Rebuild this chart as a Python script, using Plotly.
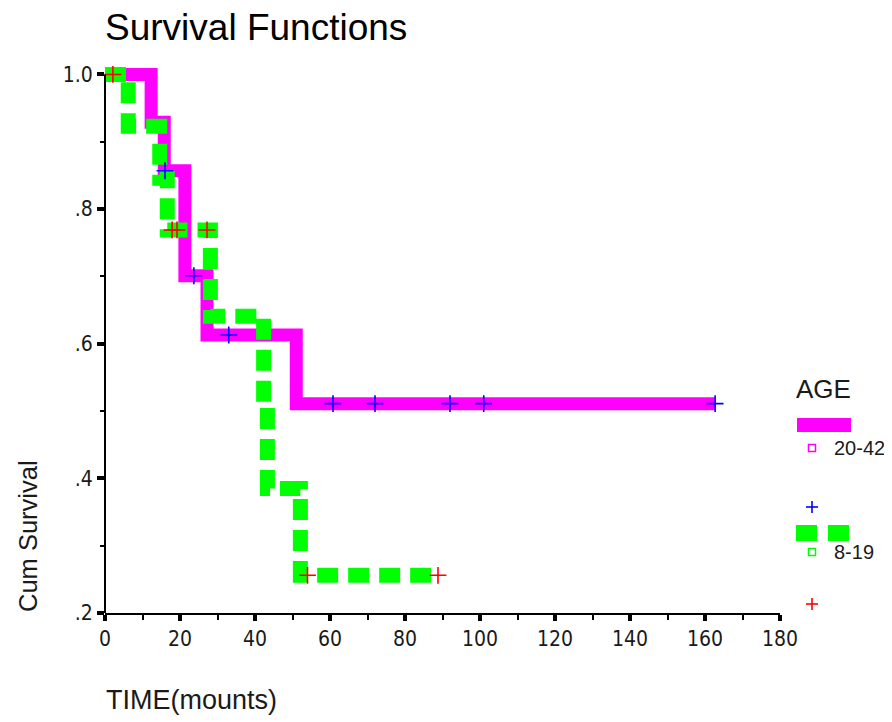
import plotly.graph_objects as go

# ---------------- data ----------------
# AGE 20-42 : Kaplan-Meier step function
t_2042 = [0, 12.3, 15.8, 21.3, 27.2, 51.0, 162.7]
s_2042 = [1.0, 0.929, 0.857, 0.701, 0.613, 0.511, 0.511]
# AGE 20-42 : censored observations
ct_2042 = [16.0, 23.7, 33.0, 60.8, 72.0, 92.0, 101.0, 162.7]
cs_2042 = [0.857, 0.701, 0.613, 0.511, 0.511, 0.511, 0.511, 0.511]

# AGE 8-19 : Kaplan-Meier step function
t_819 = [0, 6.2, 14.6, 16.6, 28.1, 42.3, 43.3, 52.1, 88.8]
s_819 = [1.0, 0.923, 0.846, 0.769, 0.641, 0.513, 0.385, 0.256, 0.256]
# AGE 8-19 : censored observations
ct_819 = [2.1, 17.9, 19.2, 27.2, 54.0, 88.8]
cs_819 = [1.0, 0.769, 0.769, 0.769, 0.256, 0.256]

x_ticks = [0, 20, 40, 60, 80, 100, 120, 140, 160, 180]
y_ticks = [0.2, 0.4, 0.6, 0.8, 1.0]
y_ticktext = [".2", ".4", ".6", ".8", "1.0"]
group_labels = ["20-42", "8-19"]

# ---------------- layout constants ----------------
OFF = 8                      # page body margin of the browser
W, H = 892 - OFF, 722 - OFF
L, T = 105 - OFF, 61 - OFF
R = W - (780 - OFF)
B = H - (613 - OFF)
PW, PH = W - L - R, H - T - B
X_RANGE = [0, 180]
Y_RANGE = [0.2, 1.02]

MAGENTA = "#FF00FF"
GREEN = "#00FF00"
BLUE = "#0000FF"
RED = "#FF0000"
FONT = "Liberation Sans, Arial, sans-serif"
NARROW = "Liberation Sans Narrow, Arial Narrow, DejaVu Sans Condensed, sans-serif"
TXT = "#1a1a1a"


def px(xp):
    """page pixel x -> paper coordinate"""
    return (xp - OFF - L) / PW


def py(yp):
    """page pixel y -> paper coordinate"""
    return (H - B - (yp - OFF)) / PH


fig = go.Figure()

fig.add_trace(go.Scatter(
    x=t_2042, y=s_2042, mode="lines", line_shape="hv",
    line=dict(color=MAGENTA, width=13), showlegend=False, hoverinfo="skip"))
fig.add_trace(go.Scatter(
    x=t_819, y=s_819, mode="lines", line_shape="hv",
    line=dict(color=GREEN, width=15, dash="21px,10px"),
    showlegend=False, hoverinfo="skip"))
fig.add_trace(go.Scatter(
    x=ct_2042, y=cs_2042, mode="markers",
    marker=dict(symbol="cross-thin", size=12, line=dict(color=BLUE, width=1.6)),
    showlegend=False, cliponaxis=False))
fig.add_trace(go.Scatter(
    x=ct_819, y=cs_819, mode="markers",
    marker=dict(symbol="cross-thin", size=12, line=dict(color=RED, width=1.6)),
    showlegend=False, cliponaxis=False))

# ---------------- axes ----------------
fig.update_xaxes(
    range=X_RANGE, tickmode="array", tickvals=x_ticks,
    ticks="outside", ticklen=6, tickwidth=4, tickcolor="black",
    showline=True, linecolor="black", linewidth=2,
    showgrid=False, zeroline=False,
    tickfont=dict(family=NARROW, size=21, color=TXT),
    minor=dict(ticks="outside", ticklen=5, tickwidth=2, tickcolor="black",
               tick0=0, dtick=10, showgrid=False))
fig.update_yaxes(
    range=Y_RANGE, tickmode="array", tickvals=y_ticks, ticktext=y_ticktext,
    ticks="outside", ticklen=7, tickwidth=4, tickcolor="black",
    showline=False, showgrid=False, zeroline=False,
    tickfont=dict(family=NARROW, size=21, color=TXT),
    minor=dict(ticks="outside", ticklen=4, tickwidth=1.5, tickcolor="black",
               tick0=0.2, dtick=0.1, showgrid=False))

# y-axis line from .2 to 1.0 only
y_top = (1.0 - Y_RANGE[0]) / (Y_RANGE[1] - Y_RANGE[0])
shapes = [dict(type="line", xref="paper", yref="paper", x0=0, x1=0, y0=0, y1=y_top,
               line=dict(color="black", width=2), layer="above")]


# ---------------- legend (drawn) ----------------
def plus(cx, cy, color, half=6):
    return [
        dict(type="line", xref="paper", yref="paper",
             x0=px(cx - half), x1=px(cx + half), y0=py(cy), y1=py(cy),
             line=dict(color=color, width=1.6)),
        dict(type="line", xref="paper", yref="paper",
             x0=px(cx), x1=px(cx), y0=py(cy - half), y1=py(cy + half),
             line=dict(color=color, width=1.6)),
    ]


def open_square(cx, cy, color, half=3.5):
    return dict(type="rect", xref="paper", yref="paper",
                x0=px(cx - half), x1=px(cx + half), y0=py(cy + half), y1=py(cy - half),
                line=dict(color=color, width=1.5), fillcolor="rgba(0,0,0,0)")


shapes.append(dict(type="line", xref="paper", yref="paper",
                   x0=px(797), x1=px(851), y0=py(425), y1=py(425),
                   line=dict(color=MAGENTA, width=14)))
shapes.append(open_square(812, 448, MAGENTA))
shapes += plus(812, 507, BLUE)
shapes.append(dict(type="line", xref="paper", yref="paper",
                   x0=px(796), x1=px(849), y0=py(533), y1=py(533),
                   line=dict(color=GREEN, width=16, dash="21px,11px")))
shapes.append(open_square(812, 552, GREEN))
shapes += plus(812, 604, RED)

annotations = [
    dict(text="AGE", xref="paper", yref="paper", x=px(794), y=py(389),
         xanchor="left", yanchor="middle", showarrow=False,
         font=dict(family=FONT, size=26, color=TXT)),
    dict(text=group_labels[0], xref="paper", yref="paper", x=px(832), y=py(448),
         xanchor="left", yanchor="middle", showarrow=False,
         font=dict(family=FONT, size=20, color=TXT)),
    dict(text=group_labels[1], xref="paper", yref="paper", x=px(832), y=py(552),
         xanchor="left", yanchor="middle", showarrow=False,
         font=dict(family=FONT, size=20, color=TXT)),
    dict(text="Cum Survival", xref="paper", yref="paper", x=px(28), y=py(536),
         xanchor="center", yanchor="middle", textangle=-90, showarrow=False,
         font=dict(family=FONT, size=25.5, color=TXT)),
    dict(text="TIME(mounts)", xref="paper", yref="paper", x=px(104), y=py(700),
         xanchor="left", yanchor="middle", showarrow=False,
         font=dict(family=FONT, size=27, color=TXT)),
]

fig.update_layout(
    width=W, height=H,
    margin=dict(l=L, r=R, t=T, b=B, autoexpand=False),
    paper_bgcolor="white", plot_bgcolor="white",
    title=dict(text="Survival Functions", x=L / W, xanchor="left",
               y=1 - (27 - OFF) / H, yanchor="middle",
               font=dict(family=FONT, size=37, color="black")),
    shapes=shapes, annotations=annotations,
    showlegend=False,
)

fig.write_html("out.html")
